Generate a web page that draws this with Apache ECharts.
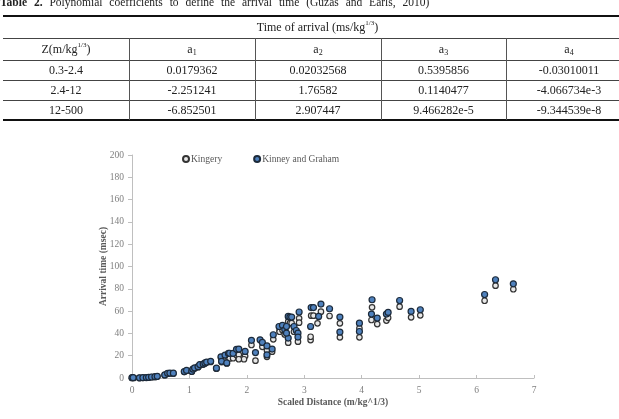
<!DOCTYPE html>
<html><head><meta charset="utf-8">
<script src="https://cdn.jsdelivr.net/npm/echarts@6/dist/echarts.min.js"></script>
<style>
html,body{margin:0;padding:0;background:#fff;width:619px;height:419px;overflow:hidden;}
#chart{position:absolute;left:0;top:0;width:619px;height:419px;}
#tbl{position:absolute;left:0;top:0;width:619px;height:130px;overflow:hidden;font-family:"Liberation Serif","Times New Roman",serif;color:#222;pointer-events:none;}
.cell{position:absolute;text-align:center;font-size:12px;white-space:nowrap;line-height:14px;}
.cell sup{font-size:7px;vertical-align:6px;line-height:0;}
.cell sub{font-size:8px;vertical-align:-2px;line-height:0;}
.hl{position:absolute;background:#444;height:1px;}
.vl{position:absolute;background:#555;width:1px;}
#ttl{position:absolute;left:0;top:-4px;font-size:11.5px;white-space:nowrap;word-spacing:4px;color:#222;}
</style></head>
<body><div id="chart"></div><div id="tbl"></div>
<script>
// ---------- table content ----------
const tableTitleBold = 'Table 2.';
const tableTitleText = 'Polynomial coefficients to define the arrival time (Guzas and Earls, 2010)';
const tableSpanHeader = 'Time of arrival (ms/kg<sup>1/3</sup>)';
const tableColumns = ['Z(m/kg<sup>1/3</sup>)', 'a<sub>1</sub>', 'a<sub>2</sub>', 'a<sub>3</sub>', 'a<sub>4</sub>'];
const tableRows = [
  ['0.3-2.4', '0.0179362', '0.02032568', '0.5395856', '-0.03010011'],
  ['2.4-12', '-2.251241', '1.76582', '0.1140477', '-4.066734e-3'],
  ['12-500', '-6.852501', '2.907447', '9.466282e-5', '-9.344539e-8']
];

// ---------- chart data ----------
const seriesNames = ['Kingery', 'Kinney and Graham'];
const xTicks = [0, 1, 2, 3, 4, 5, 6, 7];
const yTicks = [0, 20, 40, 60, 80, 100, 120, 140, 160, 180, 200];
const kingeryData = [
  [0.0,0.1],[0.03,0.1],[0.13,0.1],[0.19,0.2],[0.25,0.3],[0.29,0.4],[0.34,0.7],[0.40,1.0],[0.44,1.3],
  [0.57,2.6],[0.62,3.9],[0.66,4.1],[0.72,4.0],[0.91,5.5],[0.95,6.4],[1.04,5.6],[1.06,7.6],[1.09,8.6],
  [1.15,9.7],[1.18,11.4],[1.24,12.0],[1.27,12.9],[1.30,13.8],[1.37,14.4],[1.47,8.4],[1.55,18.2],
  [1.56,14.3],[1.62,16.0],[1.65,13.0],[1.68,17.7],[1.70,17.5],[1.76,17.7],[1.82,20.6],[1.86,20.8],
  [1.97,19.7],[1.95,16.8],[1.86,16.8],[2.08,29.6],[2.15,15.5],[2.27,28.0],[2.35,19.0],[2.35,25.0],
  [2.44,23.6],[2.46,34.7],[2.57,42.4],[2.57,41.5],[2.62,43.0],[2.66,39.0],[2.72,31.7],[2.72,50.5],
  [2.75,49.2],[2.78,49.2],[2.82,41.5],[2.89,32.6],[2.91,53.5],[2.91,49.6],[3.11,34.0],[3.11,37.0],
  [3.12,55.9],[3.16,55.9],[3.23,49.0],[3.29,59.5],[3.44,55.6],[3.62,49.0],[3.62,36.5],[3.96,44.6],
  [3.96,36.5],[4.17,52.0],[4.18,63.4],[4.27,48.4],[4.43,51.5],[4.46,54.0],[4.66,64.0],[4.86,54.4],
  [5.02,56.2],[6.14,69.3],[6.33,82.8],[6.64,79.6]
];
const kinneyData = [
  [0.0,0.3],[0.02,0.3],[0.13,0.2],[0.19,0.3],[0.25,0.4],[0.29,0.6],[0.34,0.9],[0.40,1.2],[0.44,1.5],
  [0.57,2.8],[0.62,4.2],[0.66,4.4],[0.72,4.3],[0.91,5.8],[0.95,6.8],[1.04,6.0],[1.06,8.0],[1.09,9.0],
  [1.15,10.2],[1.18,12.0],[1.24,12.5],[1.27,13.5],[1.30,14.3],[1.37,15.0],[1.47,8.8],[1.55,19.0],
  [1.56,15.0],[1.62,20.6],[1.65,13.5],[1.68,22.0],[1.70,22.2],[1.76,22.0],[1.82,25.7],[1.86,25.9],
  [1.97,23.8],[2.08,33.8],[2.15,22.8],[2.23,34.2],[2.27,31.9],[2.35,28.8],[2.35,20.8],[2.44,25.9],
  [2.46,38.8],[2.56,46.2],[2.62,47.2],[2.66,43.2],[2.69,46.2],[2.72,55.2],[2.75,54.6],[2.78,54.6],
  [2.72,35.8],[2.69,40.2],[2.82,46.2],[2.86,42.6],[2.89,40.2],[2.89,36.7],[2.91,59.2],[3.11,46.2],
  [3.12,63.2],[3.16,63.2],[3.25,55.2],[3.29,66.3],[3.44,62.1],[3.62,54.6],[3.62,41.2],[3.96,49.2],
  [3.96,41.7],[4.17,57.3],[4.18,70.2],[4.27,53.7],[4.43,57.3],[4.46,58.8],[4.66,69.5],[4.86,59.7],
  [5.02,61.2],[6.14,74.9],[6.33,88.1],[6.64,84.5]
];

// ---------- build table ----------
(function(){
  const t = document.getElementById('tbl');
  const colX = [3, 129, 255, 381, 506, 632];
  const lineY = [16, 38, 60, 80, 100, 120];
  const W = colX[5] - colX[0];
  let html = '<div id="ttl"><b>' + tableTitleBold + '</b> ' + tableTitleText + '</div>';
  html += '<div class="hl" style="left:3px;width:' + W + 'px;top:15px;height:2px;background:#111"></div>';
  for (let i = 1; i < lineY.length - 1; i++) html += '<div class="hl" style="left:3px;width:' + W + 'px;top:' + lineY[i] + 'px"></div>';
  html += '<div class="hl" style="left:3px;width:' + W + 'px;top:119px;height:2px;background:#111"></div>';
  for (let i = 1; i < colX.length - 1; i++) html += '<div class="vl" style="left:' + colX[i] + 'px;top:38px;height:82px"></div>';
  const cellAt = (txt, x0, x1, y0, y1) => '<div class="cell" style="left:' + x0 + 'px;width:' + (x1 - x0) + 'px;top:' + ((y0 + y1) / 2 - 7) + 'px">' + txt + '</div>';
  html += cellAt(tableSpanHeader, colX[0], colX[5], lineY[0], lineY[1]);
  tableColumns.forEach((c, i) => html += cellAt(c, colX[i], colX[i + 1], lineY[1], lineY[2]));
  tableRows.forEach((r, j) => r.forEach((c, i) => html += cellAt(c, colX[i], colX[i + 1], lineY[j + 2], lineY[j + 3])));
  t.innerHTML = html;
})();

// ---------- chart ----------
const chart = echarts.init(document.getElementById('chart'), null, {renderer: 'canvas'});
const serif = '"Liberation Serif","Times New Roman",serif';
chart.setOption({
  animation: false,
  backgroundColor: '#fff',
  textStyle: {fontFamily: serif},
  grid: {left: 132, right: 85, top: 155, bottom: 41},
  legend: {
    left: 182, top: 154, padding: 0, itemWidth: 6, itemHeight: 6, itemGap: 31,
    textStyle: {fontFamily: serif, fontSize: 9.5, color: '#595959', padding: [0, 0, 0, -3]},
    data: [
      {name: seriesNames[0], icon: 'circle'},
      {name: seriesNames[1], icon: 'circle'}
    ]
  },
  xAxis: {
    type: 'value', min: xTicks[0], max: xTicks[xTicks.length - 1], interval: 1,
    name: 'Scaled Distance (m/kg^1/3)', nameLocation: 'middle', nameGap: 20, nameMoveOverlap: false,
    nameTextStyle: {fontFamily: serif, fontWeight: 'bold', fontSize: 9.5, color: '#595959'},
    axisLine: {lineStyle: {color: '#bfbfbf', width: 1}},
    axisTick: {inside: true, length: 3, lineStyle: {color: '#bfbfbf'}},
    axisLabel: {fontFamily: serif, fontSize: 9.5, color: '#7f7f7f', margin: 7},
    splitLine: {show: false}
  },
  yAxis: {
    type: 'value', min: yTicks[0], max: yTicks[yTicks.length - 1], interval: 20,
    name: 'Arrival time (msec)', nameLocation: 'middle', nameGap: 23, nameRotate: 90, nameMoveOverlap: false,
    nameTextStyle: {fontFamily: serif, fontWeight: 'bold', fontSize: 9.5, color: '#595959'},
    axisLine: {show: true, lineStyle: {color: '#bfbfbf', width: 1}},
    axisTick: {show: true, inside: false, length: 4, lineStyle: {color: '#bfbfbf'}},
    axisLabel: {fontFamily: serif, fontSize: 9.5, color: '#7f7f7f', margin: 8},
    splitLine: {show: false}
  },
  series: [
    {
      name: seriesNames[0], type: 'scatter', data: kingeryData, symbol: 'circle', symbolSize: 5.5,
      itemStyle: {color: '#e8e8e8', borderColor: '#333333', borderWidth: 1.2, opacity: 1}
    },
    {
      name: seriesNames[1], type: 'scatter', data: kinneyData, symbol: 'circle', symbolSize: 6,
      itemStyle: {color: '#4f81bd', borderColor: '#1c2a3a', borderWidth: 1.2, opacity: 1}
    }
  ]
});
</script>
</body></html>
